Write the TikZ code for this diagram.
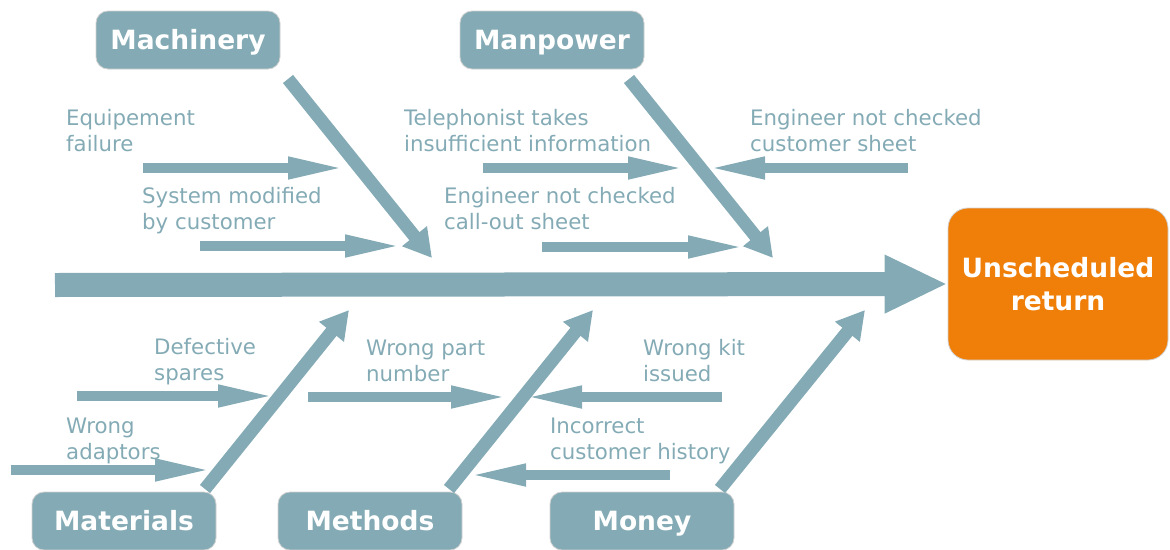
\documentclass[tikz,border=0pt]{standalone}
\usepackage{fontspec}
\setmainfont{DejaVu Sans}
\usetikzlibrary{arrows.meta}

\definecolor{fish}{RGB}{132,171,181}
\definecolor{effect}{RGB}{240,127,9}

\tikzset{
  box/.style={rectangle, rounded corners=12pt, fill=fish, draw=black!18, line width=0.8pt,
    minimum width=184pt, minimum height=58pt, inner sep=0pt, text=white,
    font=\fontsize{26.5}{33}\selectfont\bfseries},
  cat/.style={box, text height=19pt, text depth=0pt},
  result/.style={box, fill=effect, rounded corners=20pt, minimum width=220pt,
    minimum height=152pt, align=center},
  cause/.style={anchor=base west, align=left, inner sep=0pt, text=fish,
    font=\fontsize{21.3}{26}\selectfont},
  spine/.style={draw=fish, line width=24pt, -{Triangle[length=63pt, width=54pt]}},
  bone/.style={draw=fish, line width=13pt, -{Triangle[length=28pt, width=30pt]}},
  twig/.style={draw=fish, line width=10pt, shorten >=-6pt, -{Triangle[length=58pt, width=20pt]}}
}

\begin{document}
\begin{tikzpicture}[x=1pt, y=-1pt]
\useasboundingbox (0,0) rectangle (1170,549);

%Declare nodes.
\node[cat] (mach) at (188,40) {Machinery};
\node[cat] (man) at (552,40) {Manpower};
\node[cat] (mat) at (124,521) {Materials};
\node[cat] (meth) at (370,521) {Methods};
\node[cat] (money) at (642,521) {Money};
\node[result] (ret) at (1058,284) {Unscheduled\\return};

%Causes (placed by the baseline of their last line).
\node[cause] (equip) at (66,151) {Equipement\\failure};
\node[cause] (sysmod) at (142,229) {System modified\\by customer};
\node[cause] (tel) at (404,151) {Telephonist takes\\insufficient information};
\node[cause] (engcust) at (750,151) {Engineer not checked\\customer sheet};
\node[cause] (engcall) at (444,229) {Engineer not checked\\call-out sheet};
\node[cause] (spares) at (154,380) {Defective\\spares};
\node[cause] (adapt) at (66,459) {Wrong\\adaptors};
\node[cause] (part) at (366,381) {Wrong part\\number};
\node[cause] (kit) at (643,381) {Wrong kit\\issued};
\node[cause] (hist) at (550,459) {Incorrect\\customer history};

%Bone ends.
\coordinate (tail) at (55,285);
\coordinate (mach-a) at (288,79);  \coordinate (mach-b) at (432,258);
\coordinate (man-a) at (629,79);   \coordinate (man-b) at (773,258);
\coordinate (mat-a) at (205,489);  \coordinate (mat-b) at (349,310);
\coordinate (meth-a) at (449,489); \coordinate (meth-b) at (593,310);
\coordinate (money-a) at (720,489);\coordinate (money-b) at (865,310);

%Twig ends.
\coordinate (equip-a) at (143,168);   \coordinate (equip-b) at (340,168);
\coordinate (sysmod-a) at (200,246);  \coordinate (sysmod-b) at (397,246);
\coordinate (tel-a) at (483,168);     \coordinate (tel-b) at (680,168);
\coordinate (engcust-a) at (908,168); \coordinate (engcust-b) at (713,168);
\coordinate (engcall-a) at (542,247); \coordinate (engcall-b) at (740,247);
\coordinate (spares-a) at (77,396);   \coordinate (spares-b) at (270,396);
\coordinate (adapt-a) at (11,470);    \coordinate (adapt-b) at (207,470);
\coordinate (part-a) at (308,397);    \coordinate (part-b) at (503,397);
\coordinate (kit-a) at (722,397);     \coordinate (kit-b) at (530,397);
\coordinate (hist-a) at (670,475);    \coordinate (hist-b) at (474,475);

%Setup edges.
\draw[spine] (tail) -- (ret.west);
\foreach \b in {mach, man, mat, meth, money}
  \draw[bone] (\b-a) -- (\b-b);
\foreach \t in {equip, sysmod, tel, engcust, engcall, spares, adapt, part, kit, hist}
  \draw[twig] (\t-a) -- (\t-b);

\end{tikzpicture}
\end{document}
